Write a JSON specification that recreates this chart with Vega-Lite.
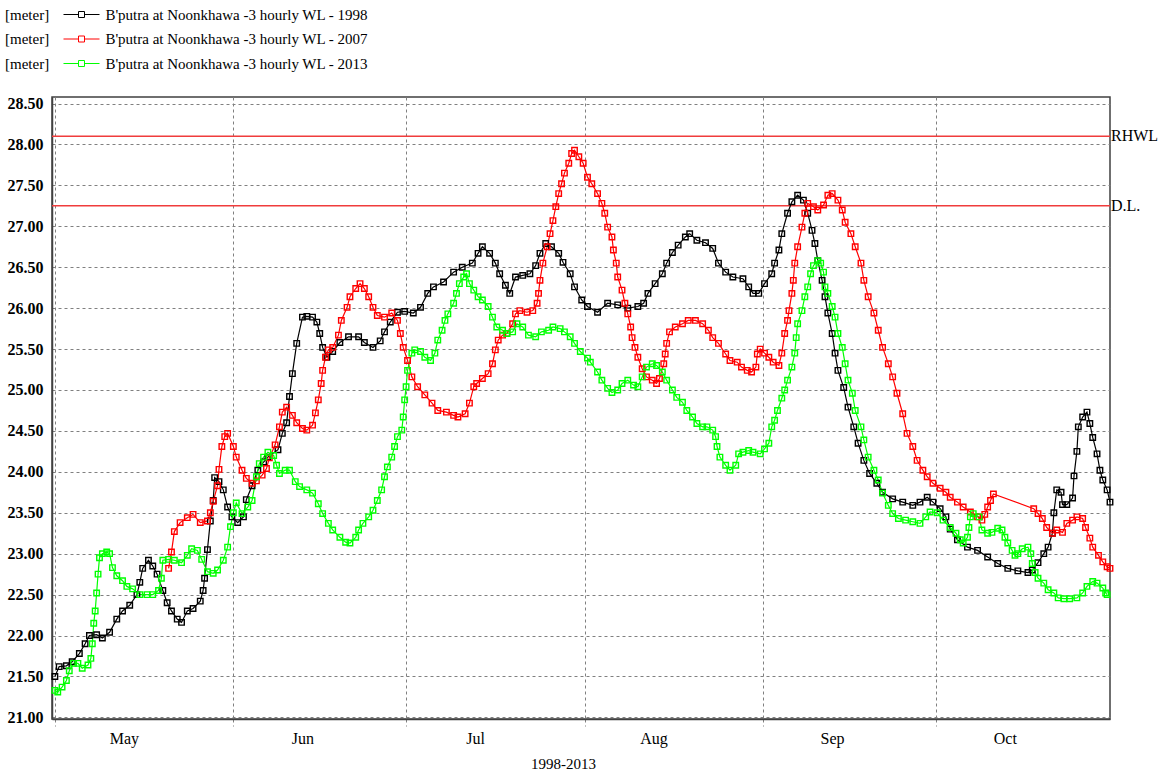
{
"$schema":"https://vega.github.io/schema/vega-lite/v6.json",
"width":1058,"height":622,
"autosize":{"type":"none"},
"padding":{"left":52,"top":97,"right":56,"bottom":59},
"background":"white",
"config":{"view":{"stroke":"#404040","strokeWidth":1.5},"font":"Liberation Serif"},
"datasets":{
"levels":[{"level":28.1,"label":"RHWL"},{"level":27.25,"label":"D.L."}],
"wl":[
{"year":"1998","time":"2013-05-01T00:00","wl":21.50},{"year":"1998","time":"2013-05-01T18:00","wl":21.62},{"year":"1998","time":"2013-05-03T00:00","wl":21.63},{"year":"1998","time":"2013-05-04T00:00","wl":21.68},{"year":"1998","time":"2013-05-05T06:00","wl":21.78},{"year":"1998","time":"2013-05-06T06:00","wl":21.90},{"year":"1998","time":"2013-05-07T00:00","wl":22.00},{"year":"1998","time":"2013-05-08T06:00","wl":22.01},{"year":"1998","time":"2013-05-09T06:00","wl":21.97},{"year":"1998","time":"2013-05-10T12:00","wl":22.04},{"year":"1998","time":"2013-05-11T18:00","wl":22.20},{"year":"1998","time":"2013-05-12T18:00","wl":22.30},{"year":"1998","time":"2013-05-14T00:00","wl":22.37},{"year":"1998","time":"2013-05-15T06:00","wl":22.50},{"year":"1998","time":"2013-05-15T18:00","wl":22.65},{"year":"1998","time":"2013-05-16T06:00","wl":22.82},{"year":"1998","time":"2013-05-17T06:00","wl":22.92},{"year":"1998","time":"2013-05-18T00:00","wl":22.85},{"year":"1998","time":"2013-05-18T18:00","wl":22.75},{"year":"1998","time":"2013-05-19T18:00","wl":22.55},{"year":"1998","time":"2013-05-20T12:00","wl":22.40},{"year":"1998","time":"2013-05-21T06:00","wl":22.30},{"year":"1998","time":"2013-05-22T06:00","wl":22.20},{"year":"1998","time":"2013-05-23T00:00","wl":22.16},{"year":"1998","time":"2013-05-24T00:00","wl":22.30},{"year":"1998","time":"2013-05-25T00:00","wl":22.33},{"year":"1998","time":"2013-05-26T06:00","wl":22.42},{"year":"1998","time":"2013-05-26T18:00","wl":22.55},{"year":"1998","time":"2013-05-27T00:00","wl":22.70},{"year":"1998","time":"2013-05-27T12:00","wl":23.05},{"year":"1998","time":"2013-05-28T00:00","wl":23.40},{"year":"1998","time":"2013-05-28T12:00","wl":23.65},{"year":"1998","time":"2013-05-28T18:00","wl":23.93},{"year":"1998","time":"2013-05-29T12:00","wl":23.88},{"year":"1998","time":"2013-05-30T06:00","wl":23.78},{"year":"1998","time":"2013-05-31T00:00","wl":23.57},{"year":"1998","time":"2013-05-31T18:00","wl":23.45},{"year":"1998","time":"2013-06-01T18:00","wl":23.38},{"year":"1998","time":"2013-06-02T18:00","wl":23.45},{"year":"1998","time":"2013-06-03T06:00","wl":23.66},{"year":"1998","time":"2013-06-04T06:00","wl":23.83},{"year":"1998","time":"2013-06-05T06:00","wl":24.02},{"year":"1998","time":"2013-06-06T06:00","wl":24.12},{"year":"1998","time":"2013-06-07T00:00","wl":24.18},{"year":"1998","time":"2013-06-08T18:00","wl":24.27},{"year":"1998","time":"2013-06-09T12:00","wl":24.47},{"year":"1998","time":"2013-06-10T06:00","wl":24.60},{"year":"1998","time":"2013-06-10T18:00","wl":24.92},{"year":"1998","time":"2013-06-11T06:00","wl":25.20},{"year":"1998","time":"2013-06-12T00:00","wl":25.57},{"year":"1998","time":"2013-06-13T00:00","wl":25.89},{"year":"1998","time":"2013-06-13T18:00","wl":25.90},{"year":"1998","time":"2013-06-14T18:00","wl":25.89},{"year":"1998","time":"2013-06-15T12:00","wl":25.83},{"year":"1998","time":"2013-06-16T00:00","wl":25.69},{"year":"1998","time":"2013-06-16T12:00","wl":25.52},{"year":"1998","time":"2013-06-17T06:00","wl":25.40},{"year":"1998","time":"2013-06-18T06:00","wl":25.47},{"year":"1998","time":"2013-06-19T12:00","wl":25.58},{"year":"1998","time":"2013-06-21T00:00","wl":25.65},{"year":"1998","time":"2013-06-22T18:00","wl":25.65},{"year":"1998","time":"2013-06-23T18:00","wl":25.58},{"year":"1998","time":"2013-06-25T06:00","wl":25.52},{"year":"1998","time":"2013-06-26T12:00","wl":25.60},{"year":"1998","time":"2013-06-27T06:00","wl":25.71},{"year":"1998","time":"2013-06-28T06:00","wl":25.83},{"year":"1998","time":"2013-06-29T12:00","wl":25.95},{"year":"1998","time":"2013-06-30T18:00","wl":25.96},{"year":"1998","time":"2013-07-02T06:00","wl":25.94},{"year":"1998","time":"2013-07-03T12:00","wl":26.01},{"year":"1998","time":"2013-07-04T18:00","wl":26.18},{"year":"1998","time":"2013-07-05T18:00","wl":26.26},{"year":"1998","time":"2013-07-07T12:00","wl":26.32},{"year":"1998","time":"2013-07-09T06:00","wl":26.44},{"year":"1998","time":"2013-07-10T18:00","wl":26.50},{"year":"1998","time":"2013-07-12T12:00","wl":26.55},{"year":"1998","time":"2013-07-13T12:00","wl":26.67},{"year":"1998","time":"2013-07-14T06:00","wl":26.75},{"year":"1998","time":"2013-07-15T12:00","wl":26.67},{"year":"1998","time":"2013-07-16T12:00","wl":26.55},{"year":"1998","time":"2013-07-17T06:00","wl":26.42},{"year":"1998","time":"2013-07-18T06:00","wl":26.28},{"year":"1998","time":"2013-07-19T00:00","wl":26.18},{"year":"1998","time":"2013-07-20T00:00","wl":26.38},{"year":"1998","time":"2013-07-21T06:00","wl":26.40},{"year":"1998","time":"2013-07-22T12:00","wl":26.42},{"year":"1998","time":"2013-07-23T12:00","wl":26.52},{"year":"1998","time":"2013-07-24T06:00","wl":26.67},{"year":"1998","time":"2013-07-25T06:00","wl":26.79},{"year":"1998","time":"2013-07-26T06:00","wl":26.75},{"year":"1998","time":"2013-07-27T12:00","wl":26.67},{"year":"1998","time":"2013-07-28T06:00","wl":26.56},{"year":"1998","time":"2013-07-29T12:00","wl":26.42},{"year":"1998","time":"2013-07-30T06:00","wl":26.26},{"year":"1998","time":"2013-07-31T12:00","wl":26.10},{"year":"1998","time":"2013-08-01T12:00","wl":26.02},{"year":"1998","time":"2013-08-03T06:00","wl":25.95},{"year":"1998","time":"2013-08-05T00:00","wl":26.06},{"year":"1998","time":"2013-08-06T18:00","wl":26.04},{"year":"1998","time":"2013-08-08T12:00","wl":26.00},{"year":"1998","time":"2013-08-10T06:00","wl":26.02},{"year":"1998","time":"2013-08-11T06:00","wl":26.06},{"year":"1998","time":"2013-08-12T00:00","wl":26.18},{"year":"1998","time":"2013-08-13T06:00","wl":26.30},{"year":"1998","time":"2013-08-14T12:00","wl":26.42},{"year":"1998","time":"2013-08-15T06:00","wl":26.55},{"year":"1998","time":"2013-08-16T06:00","wl":26.68},{"year":"1998","time":"2013-08-17T06:00","wl":26.77},{"year":"1998","time":"2013-08-18T12:00","wl":26.87},{"year":"1998","time":"2013-08-19T06:00","wl":26.91},{"year":"1998","time":"2013-08-20T12:00","wl":26.83},{"year":"1998","time":"2013-08-22T00:00","wl":26.80},{"year":"1998","time":"2013-08-23T06:00","wl":26.73},{"year":"1998","time":"2013-08-24T06:00","wl":26.55},{"year":"1998","time":"2013-08-25T12:00","wl":26.44},{"year":"1998","time":"2013-08-26T18:00","wl":26.38},{"year":"1998","time":"2013-08-28T12:00","wl":26.36},{"year":"1998","time":"2013-08-29T12:00","wl":26.26},{"year":"1998","time":"2013-08-30T06:00","wl":26.18},{"year":"1998","time":"2013-08-31T06:00","wl":26.18},{"year":"1998","time":"2013-09-01T06:00","wl":26.30},{"year":"1998","time":"2013-09-02T12:00","wl":26.42},{"year":"1998","time":"2013-09-03T00:00","wl":26.55},{"year":"1998","time":"2013-09-03T18:00","wl":26.71},{"year":"1998","time":"2013-09-04T06:00","wl":26.91},{"year":"1998","time":"2013-09-05T06:00","wl":27.16},{"year":"1998","time":"2013-09-06T00:00","wl":27.30},{"year":"1998","time":"2013-09-07T00:00","wl":27.38},{"year":"1998","time":"2013-09-08T00:00","wl":27.32},{"year":"1998","time":"2013-09-08T18:00","wl":27.16},{"year":"1998","time":"2013-09-09T12:00","wl":26.95},{"year":"1998","time":"2013-09-10T00:00","wl":26.79},{"year":"1998","time":"2013-09-10T12:00","wl":26.58},{"year":"1998","time":"2013-09-11T06:00","wl":26.34},{"year":"1998","time":"2013-09-11T18:00","wl":26.14},{"year":"1998","time":"2013-09-12T06:00","wl":25.94},{"year":"1998","time":"2013-09-13T00:00","wl":25.69},{"year":"1998","time":"2013-09-13T12:00","wl":25.45},{"year":"1998","time":"2013-09-14T00:00","wl":25.24},{"year":"1998","time":"2013-09-15T00:00","wl":25.03},{"year":"1998","time":"2013-09-15T18:00","wl":24.79},{"year":"1998","time":"2013-09-16T18:00","wl":24.55},{"year":"1998","time":"2013-09-17T12:00","wl":24.35},{"year":"1998","time":"2013-09-18T12:00","wl":24.14},{"year":"1998","time":"2013-09-19T12:00","wl":23.98},{"year":"1998","time":"2013-09-20T18:00","wl":23.86},{"year":"1998","time":"2013-09-21T18:00","wl":23.75},{"year":"1998","time":"2013-09-23T12:00","wl":23.67},{"year":"1998","time":"2013-09-25T06:00","wl":23.63},{"year":"1998","time":"2013-09-27T00:00","wl":23.59},{"year":"1998","time":"2013-09-28T06:00","wl":23.63},{"year":"1998","time":"2013-09-29T12:00","wl":23.69},{"year":"1998","time":"2013-09-30T12:00","wl":23.63},{"year":"1998","time":"2013-10-01T18:00","wl":23.55},{"year":"1998","time":"2013-10-02T18:00","wl":23.45},{"year":"1998","time":"2013-10-03T12:00","wl":23.30},{"year":"1998","time":"2013-10-04T18:00","wl":23.17},{"year":"1998","time":"2013-10-06T12:00","wl":23.08},{"year":"1998","time":"2013-10-08T06:00","wl":23.04},{"year":"1998","time":"2013-10-10T00:00","wl":22.96},{"year":"1998","time":"2013-10-11T18:00","wl":22.88},{"year":"1998","time":"2013-10-13T12:00","wl":22.82},{"year":"1998","time":"2013-10-15T06:00","wl":22.79},{"year":"1998","time":"2013-10-17T00:00","wl":22.77},{"year":"1998","time":"2013-10-17T18:00","wl":22.80},{"year":"1998","time":"2013-10-18T18:00","wl":22.89},{"year":"1998","time":"2013-10-19T18:00","wl":23.00},{"year":"1998","time":"2013-10-20T12:00","wl":23.08},{"year":"1998","time":"2013-10-21T06:00","wl":23.25},{"year":"1998","time":"2013-10-21T12:00","wl":23.50},{"year":"1998","time":"2013-10-22T00:00","wl":23.78},{"year":"1998","time":"2013-10-22T18:00","wl":23.75},{"year":"1998","time":"2013-10-23T00:00","wl":23.60},{"year":"1998","time":"2013-10-23T18:00","wl":23.60},{"year":"1998","time":"2013-10-24T18:00","wl":23.68},{"year":"1998","time":"2013-10-25T00:00","wl":23.95},{"year":"1998","time":"2013-10-25T12:00","wl":24.25},{"year":"1998","time":"2013-10-25T18:00","wl":24.55},{"year":"1998","time":"2013-10-26T12:00","wl":24.67},{"year":"1998","time":"2013-10-27T06:00","wl":24.73},{"year":"1998","time":"2013-10-27T18:00","wl":24.59},{"year":"1998","time":"2013-10-28T06:00","wl":24.42},{"year":"1998","time":"2013-10-29T00:00","wl":24.22},{"year":"1998","time":"2013-10-29T12:00","wl":24.02},{"year":"1998","time":"2013-10-30T00:00","wl":23.90},{"year":"1998","time":"2013-10-30T18:00","wl":23.78},{"year":"1998","time":"2013-10-31T06:00","wl":23.63},
{"year":"2007","time":"2013-05-20T18:00","wl":22.82},{"year":"2007","time":"2013-05-21T06:00","wl":23.02},{"year":"2007","time":"2013-05-21T18:00","wl":23.27},{"year":"2007","time":"2013-05-22T18:00","wl":23.38},{"year":"2007","time":"2013-05-24T00:00","wl":23.44},{"year":"2007","time":"2013-05-25T00:00","wl":23.48},{"year":"2007","time":"2013-05-26T06:00","wl":23.38},{"year":"2007","time":"2013-05-27T12:00","wl":23.40},{"year":"2007","time":"2013-05-28T00:00","wl":23.50},{"year":"2007","time":"2013-05-28T12:00","wl":23.64},{"year":"2007","time":"2013-05-29T06:00","wl":23.83},{"year":"2007","time":"2013-05-29T12:00","wl":24.03},{"year":"2007","time":"2013-05-30T00:00","wl":24.31},{"year":"2007","time":"2013-05-30T12:00","wl":24.43},{"year":"2007","time":"2013-05-31T00:00","wl":24.47},{"year":"2007","time":"2013-06-01T00:00","wl":24.31},{"year":"2007","time":"2013-06-01T12:00","wl":24.18},{"year":"2007","time":"2013-06-02T12:00","wl":24.02},{"year":"2007","time":"2013-06-03T06:00","wl":23.92},{"year":"2007","time":"2013-06-04T06:00","wl":23.86},{"year":"2007","time":"2013-06-05T00:00","wl":23.89},{"year":"2007","time":"2013-06-06T00:00","wl":23.96},{"year":"2007","time":"2013-06-06T18:00","wl":24.04},{"year":"2007","time":"2013-06-07T06:00","wl":24.17},{"year":"2007","time":"2013-06-08T06:00","wl":24.33},{"year":"2007","time":"2013-06-09T00:00","wl":24.55},{"year":"2007","time":"2013-06-09T12:00","wl":24.73},{"year":"2007","time":"2013-06-10T06:00","wl":24.79},{"year":"2007","time":"2013-06-11T06:00","wl":24.69},{"year":"2007","time":"2013-06-12T00:00","wl":24.60},{"year":"2007","time":"2013-06-13T00:00","wl":24.53},{"year":"2007","time":"2013-06-13T18:00","wl":24.51},{"year":"2007","time":"2013-06-14T18:00","wl":24.57},{"year":"2007","time":"2013-06-15T06:00","wl":24.72},{"year":"2007","time":"2013-06-15T18:00","wl":24.88},{"year":"2007","time":"2013-06-16T06:00","wl":25.08},{"year":"2007","time":"2013-06-16T12:00","wl":25.24},{"year":"2007","time":"2013-06-17T00:00","wl":25.40},{"year":"2007","time":"2013-06-17T12:00","wl":25.49},{"year":"2007","time":"2013-06-18T06:00","wl":25.52},{"year":"2007","time":"2013-06-19T06:00","wl":25.67},{"year":"2007","time":"2013-06-19T18:00","wl":25.85},{"year":"2007","time":"2013-06-20T18:00","wl":26.01},{"year":"2007","time":"2013-06-21T06:00","wl":26.14},{"year":"2007","time":"2013-06-22T06:00","wl":26.24},{"year":"2007","time":"2013-06-23T00:00","wl":26.30},{"year":"2007","time":"2013-06-23T18:00","wl":26.24},{"year":"2007","time":"2013-06-24T12:00","wl":26.14},{"year":"2007","time":"2013-06-25T06:00","wl":26.01},{"year":"2007","time":"2013-06-26T00:00","wl":25.91},{"year":"2007","time":"2013-06-27T06:00","wl":25.89},{"year":"2007","time":"2013-06-28T12:00","wl":25.94},{"year":"2007","time":"2013-06-29T12:00","wl":25.85},{"year":"2007","time":"2013-06-30T00:00","wl":25.69},{"year":"2007","time":"2013-06-30T12:00","wl":25.52},{"year":"2007","time":"2013-07-01T06:00","wl":25.36},{"year":"2007","time":"2013-07-02T00:00","wl":25.16},{"year":"2007","time":"2013-07-03T00:00","wl":25.04},{"year":"2007","time":"2013-07-04T06:00","wl":24.94},{"year":"2007","time":"2013-07-05T12:00","wl":24.84},{"year":"2007","time":"2013-07-06T12:00","wl":24.75},{"year":"2007","time":"2013-07-08T00:00","wl":24.73},{"year":"2007","time":"2013-07-09T06:00","wl":24.69},{"year":"2007","time":"2013-07-10T00:00","wl":24.67},{"year":"2007","time":"2013-07-11T06:00","wl":24.71},{"year":"2007","time":"2013-07-12T00:00","wl":24.84},{"year":"2007","time":"2013-07-12T18:00","wl":25.04},{"year":"2007","time":"2013-07-13T06:00","wl":25.08},{"year":"2007","time":"2013-07-14T06:00","wl":25.14},{"year":"2007","time":"2013-07-15T06:00","wl":25.20},{"year":"2007","time":"2013-07-16T00:00","wl":25.32},{"year":"2007","time":"2013-07-16T12:00","wl":25.49},{"year":"2007","time":"2013-07-17T00:00","wl":25.61},{"year":"2007","time":"2013-07-17T18:00","wl":25.67},{"year":"2007","time":"2013-07-18T12:00","wl":25.69},{"year":"2007","time":"2013-07-19T12:00","wl":25.81},{"year":"2007","time":"2013-07-20T00:00","wl":25.93},{"year":"2007","time":"2013-07-20T18:00","wl":25.97},{"year":"2007","time":"2013-07-22T00:00","wl":25.95},{"year":"2007","time":"2013-07-23T00:00","wl":25.97},{"year":"2007","time":"2013-07-23T18:00","wl":26.06},{"year":"2007","time":"2013-07-24T00:00","wl":26.18},{"year":"2007","time":"2013-07-24T06:00","wl":26.34},{"year":"2007","time":"2013-07-24T18:00","wl":26.55},{"year":"2007","time":"2013-07-25T12:00","wl":26.75},{"year":"2007","time":"2013-07-26T00:00","wl":26.91},{"year":"2007","time":"2013-07-26T12:00","wl":27.07},{"year":"2007","time":"2013-07-27T00:00","wl":27.24},{"year":"2007","time":"2013-07-27T12:00","wl":27.40},{"year":"2007","time":"2013-07-28T00:00","wl":27.52},{"year":"2007","time":"2013-07-28T12:00","wl":27.65},{"year":"2007","time":"2013-07-29T06:00","wl":27.77},{"year":"2007","time":"2013-07-29T18:00","wl":27.89},{"year":"2007","time":"2013-07-30T06:00","wl":27.93},{"year":"2007","time":"2013-07-31T00:00","wl":27.85},{"year":"2007","time":"2013-07-31T18:00","wl":27.77},{"year":"2007","time":"2013-08-01T12:00","wl":27.60},{"year":"2007","time":"2013-08-02T06:00","wl":27.52},{"year":"2007","time":"2013-08-03T06:00","wl":27.40},{"year":"2007","time":"2013-08-04T00:00","wl":27.28},{"year":"2007","time":"2013-08-04T12:00","wl":27.16},{"year":"2007","time":"2013-08-05T00:00","wl":26.99},{"year":"2007","time":"2013-08-05T18:00","wl":26.87},{"year":"2007","time":"2013-08-06T00:00","wl":26.71},{"year":"2007","time":"2013-08-06T12:00","wl":26.55},{"year":"2007","time":"2013-08-06T18:00","wl":26.38},{"year":"2007","time":"2013-08-07T12:00","wl":26.22},{"year":"2007","time":"2013-08-08T00:00","wl":26.06},{"year":"2007","time":"2013-08-08T12:00","wl":25.93},{"year":"2007","time":"2013-08-09T00:00","wl":25.77},{"year":"2007","time":"2013-08-09T06:00","wl":25.64},{"year":"2007","time":"2013-08-09T18:00","wl":25.52},{"year":"2007","time":"2013-08-10T06:00","wl":25.40},{"year":"2007","time":"2013-08-11T00:00","wl":25.26},{"year":"2007","time":"2013-08-11T18:00","wl":25.16},{"year":"2007","time":"2013-08-12T18:00","wl":25.12},{"year":"2007","time":"2013-08-13T12:00","wl":25.08},{"year":"2007","time":"2013-08-14T00:00","wl":25.14},{"year":"2007","time":"2013-08-14T18:00","wl":25.32},{"year":"2007","time":"2013-08-15T00:00","wl":25.44},{"year":"2007","time":"2013-08-15T06:00","wl":25.57},{"year":"2007","time":"2013-08-15T18:00","wl":25.71},{"year":"2007","time":"2013-08-16T18:00","wl":25.77},{"year":"2007","time":"2013-08-18T00:00","wl":25.81},{"year":"2007","time":"2013-08-19T00:00","wl":25.85},{"year":"2007","time":"2013-08-20T06:00","wl":25.85},{"year":"2007","time":"2013-08-21T12:00","wl":25.81},{"year":"2007","time":"2013-08-22T12:00","wl":25.73},{"year":"2007","time":"2013-08-23T06:00","wl":25.64},{"year":"2007","time":"2013-08-24T06:00","wl":25.57},{"year":"2007","time":"2013-08-25T12:00","wl":25.44},{"year":"2007","time":"2013-08-26T06:00","wl":25.36},{"year":"2007","time":"2013-08-27T12:00","wl":25.34},{"year":"2007","time":"2013-08-28T06:00","wl":25.28},{"year":"2007","time":"2013-08-29T06:00","wl":25.24},{"year":"2007","time":"2013-08-30T00:00","wl":25.22},{"year":"2007","time":"2013-08-30T18:00","wl":25.28},{"year":"2007","time":"2013-08-31T00:00","wl":25.44},{"year":"2007","time":"2013-08-31T12:00","wl":25.50},{"year":"2007","time":"2013-09-01T06:00","wl":25.45},{"year":"2007","time":"2013-09-02T00:00","wl":25.40},{"year":"2007","time":"2013-09-02T18:00","wl":25.34},{"year":"2007","time":"2013-09-03T18:00","wl":25.30},{"year":"2007","time":"2013-09-04T06:00","wl":25.45},{"year":"2007","time":"2013-09-04T18:00","wl":25.69},{"year":"2007","time":"2013-09-05T06:00","wl":25.85},{"year":"2007","time":"2013-09-05T12:00","wl":25.97},{"year":"2007","time":"2013-09-06T00:00","wl":26.18},{"year":"2007","time":"2013-09-06T06:00","wl":26.34},{"year":"2007","time":"2013-09-06T12:00","wl":26.55},{"year":"2007","time":"2013-09-07T00:00","wl":26.75},{"year":"2007","time":"2013-09-07T18:00","wl":26.99},{"year":"2007","time":"2013-09-08T06:00","wl":27.16},{"year":"2007","time":"2013-09-08T18:00","wl":27.28},{"year":"2007","time":"2013-09-09T18:00","wl":27.24},{"year":"2007","time":"2013-09-10T12:00","wl":27.20},{"year":"2007","time":"2013-09-11T12:00","wl":27.26},{"year":"2007","time":"2013-09-12T06:00","wl":27.38},{"year":"2007","time":"2013-09-13T00:00","wl":27.40},{"year":"2007","time":"2013-09-14T00:00","wl":27.32},{"year":"2007","time":"2013-09-14T18:00","wl":27.20},{"year":"2007","time":"2013-09-15T06:00","wl":27.05},{"year":"2007","time":"2013-09-16T06:00","wl":26.91},{"year":"2007","time":"2013-09-17T00:00","wl":26.75},{"year":"2007","time":"2013-09-18T00:00","wl":26.55},{"year":"2007","time":"2013-09-18T12:00","wl":26.34},{"year":"2007","time":"2013-09-19T06:00","wl":26.14},{"year":"2007","time":"2013-09-20T06:00","wl":25.94},{"year":"2007","time":"2013-09-21T00:00","wl":25.73},{"year":"2007","time":"2013-09-21T18:00","wl":25.52},{"year":"2007","time":"2013-09-22T18:00","wl":25.32},{"year":"2007","time":"2013-09-23T12:00","wl":25.16},{"year":"2007","time":"2013-09-24T06:00","wl":24.96},{"year":"2007","time":"2013-09-25T06:00","wl":24.71},{"year":"2007","time":"2013-09-26T00:00","wl":24.47},{"year":"2007","time":"2013-09-27T00:00","wl":24.31},{"year":"2007","time":"2013-09-27T18:00","wl":24.14},{"year":"2007","time":"2013-09-28T18:00","wl":24.02},{"year":"2007","time":"2013-09-29T12:00","wl":23.94},{"year":"2007","time":"2013-09-30T12:00","wl":23.86},{"year":"2007","time":"2013-10-01T18:00","wl":23.80},{"year":"2007","time":"2013-10-02T18:00","wl":23.75},{"year":"2007","time":"2013-10-03T12:00","wl":23.69},{"year":"2007","time":"2013-10-04T18:00","wl":23.63},{"year":"2007","time":"2013-10-05T18:00","wl":23.57},{"year":"2007","time":"2013-10-07T00:00","wl":23.51},{"year":"2007","time":"2013-10-08T06:00","wl":23.45},{"year":"2007","time":"2013-10-09T00:00","wl":23.41},{"year":"2007","time":"2013-10-09T12:00","wl":23.48},{"year":"2007","time":"2013-10-10T00:00","wl":23.57},{"year":"2007","time":"2013-10-10T12:00","wl":23.65},{"year":"2007","time":"2013-10-11T00:00","wl":23.73},{"year":"2007","time":"2013-10-18T00:00","wl":23.55},{"year":"2007","time":"2013-10-18T18:00","wl":23.49},{"year":"2007","time":"2013-10-19T12:00","wl":23.43},{"year":"2007","time":"2013-10-20T06:00","wl":23.32},{"year":"2007","time":"2013-10-21T06:00","wl":23.25},{"year":"2007","time":"2013-10-22T00:00","wl":23.29},{"year":"2007","time":"2013-10-23T00:00","wl":23.26},{"year":"2007","time":"2013-10-23T18:00","wl":23.37},{"year":"2007","time":"2013-10-24T18:00","wl":23.41},{"year":"2007","time":"2013-10-25T12:00","wl":23.45},{"year":"2007","time":"2013-10-26T12:00","wl":23.43},{"year":"2007","time":"2013-10-27T00:00","wl":23.32},{"year":"2007","time":"2013-10-27T18:00","wl":23.19},{"year":"2007","time":"2013-10-28T06:00","wl":23.08},{"year":"2007","time":"2013-10-29T06:00","wl":22.98},{"year":"2007","time":"2013-10-30T00:00","wl":22.90},{"year":"2007","time":"2013-10-30T18:00","wl":22.84},{"year":"2007","time":"2013-10-31T06:00","wl":22.82},
{"year":"2013","time":"2013-05-01T00:00","wl":21.33},{"year":"2013","time":"2013-05-01T12:00","wl":21.31},{"year":"2013","time":"2013-05-02T06:00","wl":21.37},{"year":"2013","time":"2013-05-03T00:00","wl":21.45},{"year":"2013","time":"2013-05-03T12:00","wl":21.57},{"year":"2013","time":"2013-05-04T06:00","wl":21.66},{"year":"2013","time":"2013-05-05T00:00","wl":21.66},{"year":"2013","time":"2013-05-05T18:00","wl":21.60},{"year":"2013","time":"2013-05-06T18:00","wl":21.64},{"year":"2013","time":"2013-05-07T06:00","wl":21.72},{"year":"2013","time":"2013-05-07T12:00","wl":21.90},{"year":"2013","time":"2013-05-07T18:00","wl":22.15},{"year":"2013","time":"2013-05-08T00:00","wl":22.30},{"year":"2013","time":"2013-05-08T06:00","wl":22.52},{"year":"2013","time":"2013-05-08T12:00","wl":22.75},{"year":"2013","time":"2013-05-08T18:00","wl":22.95},{"year":"2013","time":"2013-05-09T06:00","wl":23.00},{"year":"2013","time":"2013-05-10T00:00","wl":23.02},{"year":"2013","time":"2013-05-10T12:00","wl":23.00},{"year":"2013","time":"2013-05-11T00:00","wl":22.83},{"year":"2013","time":"2013-05-11T18:00","wl":22.73},{"year":"2013","time":"2013-05-12T18:00","wl":22.67},{"year":"2013","time":"2013-05-13T12:00","wl":22.60},{"year":"2013","time":"2013-05-14T12:00","wl":22.57},{"year":"2013","time":"2013-05-15T18:00","wl":22.50},{"year":"2013","time":"2013-05-17T00:00","wl":22.50},{"year":"2013","time":"2013-05-18T00:00","wl":22.50},{"year":"2013","time":"2013-05-19T00:00","wl":22.55},{"year":"2013","time":"2013-05-19T12:00","wl":22.70},{"year":"2013","time":"2013-05-19T18:00","wl":22.92},{"year":"2013","time":"2013-05-20T18:00","wl":22.93},{"year":"2013","time":"2013-05-21T18:00","wl":22.92},{"year":"2013","time":"2013-05-23T00:00","wl":22.89},{"year":"2013","time":"2013-05-24T00:00","wl":22.98},{"year":"2013","time":"2013-05-24T18:00","wl":23.06},{"year":"2013","time":"2013-05-25T18:00","wl":23.04},{"year":"2013","time":"2013-05-26T12:00","wl":22.93},{"year":"2013","time":"2013-05-27T12:00","wl":22.78},{"year":"2013","time":"2013-05-28T12:00","wl":22.76},{"year":"2013","time":"2013-05-29T06:00","wl":22.80},{"year":"2013","time":"2013-05-30T06:00","wl":22.92},{"year":"2013","time":"2013-05-31T00:00","wl":23.08},{"year":"2013","time":"2013-05-31T12:00","wl":23.33},{"year":"2013","time":"2013-06-01T00:00","wl":23.50},{"year":"2013","time":"2013-06-01T12:00","wl":23.62},{"year":"2013","time":"2013-06-02T12:00","wl":23.49},{"year":"2013","time":"2013-06-03T12:00","wl":23.57},{"year":"2013","time":"2013-06-04T06:00","wl":23.65},{"year":"2013","time":"2013-06-05T00:00","wl":23.94},{"year":"2013","time":"2013-06-05T12:00","wl":24.10},{"year":"2013","time":"2013-06-06T06:00","wl":24.18},{"year":"2013","time":"2013-06-07T00:00","wl":24.24},{"year":"2013","time":"2013-06-08T00:00","wl":24.20},{"year":"2013","time":"2013-06-08T12:00","wl":24.08},{"year":"2013","time":"2013-06-09T00:00","wl":23.98},{"year":"2013","time":"2013-06-10T00:00","wl":24.02},{"year":"2013","time":"2013-06-10T18:00","wl":24.02},{"year":"2013","time":"2013-06-11T18:00","wl":23.88},{"year":"2013","time":"2013-06-12T12:00","wl":23.82},{"year":"2013","time":"2013-06-13T18:00","wl":23.78},{"year":"2013","time":"2013-06-14T18:00","wl":23.74},{"year":"2013","time":"2013-06-15T18:00","wl":23.61},{"year":"2013","time":"2013-06-16T12:00","wl":23.49},{"year":"2013","time":"2013-06-17T12:00","wl":23.37},{"year":"2013","time":"2013-06-18T06:00","wl":23.29},{"year":"2013","time":"2013-06-19T12:00","wl":23.20},{"year":"2013","time":"2013-06-20T12:00","wl":23.14},{"year":"2013","time":"2013-06-21T06:00","wl":23.13},{"year":"2013","time":"2013-06-22T06:00","wl":23.20},{"year":"2013","time":"2013-06-22T18:00","wl":23.29},{"year":"2013","time":"2013-06-23T12:00","wl":23.37},{"year":"2013","time":"2013-06-24T12:00","wl":23.45},{"year":"2013","time":"2013-06-25T06:00","wl":23.53},{"year":"2013","time":"2013-06-26T00:00","wl":23.65},{"year":"2013","time":"2013-06-26T18:00","wl":23.78},{"year":"2013","time":"2013-06-27T06:00","wl":23.94},{"year":"2013","time":"2013-06-27T18:00","wl":24.06},{"year":"2013","time":"2013-06-28T12:00","wl":24.18},{"year":"2013","time":"2013-06-29T00:00","wl":24.31},{"year":"2013","time":"2013-06-29T12:00","wl":24.43},{"year":"2013","time":"2013-06-30T06:00","wl":24.51},{"year":"2013","time":"2013-06-30T12:00","wl":24.67},{"year":"2013","time":"2013-06-30T18:00","wl":24.88},{"year":"2013","time":"2013-07-01T00:00","wl":25.04},{"year":"2013","time":"2013-07-01T06:00","wl":25.24},{"year":"2013","time":"2013-07-02T00:00","wl":25.45},{"year":"2013","time":"2013-07-02T12:00","wl":25.49},{"year":"2013","time":"2013-07-03T12:00","wl":25.47},{"year":"2013","time":"2013-07-04T06:00","wl":25.40},{"year":"2013","time":"2013-07-05T06:00","wl":25.36},{"year":"2013","time":"2013-07-06T00:00","wl":25.45},{"year":"2013","time":"2013-07-06T12:00","wl":25.61},{"year":"2013","time":"2013-07-07T06:00","wl":25.73},{"year":"2013","time":"2013-07-07T18:00","wl":25.85},{"year":"2013","time":"2013-07-08T06:00","wl":25.93},{"year":"2013","time":"2013-07-09T06:00","wl":26.06},{"year":"2013","time":"2013-07-09T18:00","wl":26.18},{"year":"2013","time":"2013-07-10T06:00","wl":26.30},{"year":"2013","time":"2013-07-11T00:00","wl":26.38},{"year":"2013","time":"2013-07-11T12:00","wl":26.42},{"year":"2013","time":"2013-07-12T00:00","wl":26.30},{"year":"2013","time":"2013-07-12T18:00","wl":26.22},{"year":"2013","time":"2013-07-13T12:00","wl":26.14},{"year":"2013","time":"2013-07-14T06:00","wl":26.10},{"year":"2013","time":"2013-07-15T06:00","wl":26.02},{"year":"2013","time":"2013-07-16T00:00","wl":25.89},{"year":"2013","time":"2013-07-16T18:00","wl":25.77},{"year":"2013","time":"2013-07-17T18:00","wl":25.73},{"year":"2013","time":"2013-07-18T12:00","wl":25.69},{"year":"2013","time":"2013-07-19T12:00","wl":25.71},{"year":"2013","time":"2013-07-20T06:00","wl":25.81},{"year":"2013","time":"2013-07-21T06:00","wl":25.77},{"year":"2013","time":"2013-07-22T06:00","wl":25.67},{"year":"2013","time":"2013-07-23T12:00","wl":25.65},{"year":"2013","time":"2013-07-24T12:00","wl":25.71},{"year":"2013","time":"2013-07-25T18:00","wl":25.73},{"year":"2013","time":"2013-07-26T12:00","wl":25.77},{"year":"2013","time":"2013-07-27T18:00","wl":25.75},{"year":"2013","time":"2013-07-28T12:00","wl":25.71},{"year":"2013","time":"2013-07-29T12:00","wl":25.65},{"year":"2013","time":"2013-07-30T06:00","wl":25.57},{"year":"2013","time":"2013-07-31T06:00","wl":25.47},{"year":"2013","time":"2013-08-01T12:00","wl":25.39},{"year":"2013","time":"2013-08-02T00:00","wl":25.34},{"year":"2013","time":"2013-08-03T06:00","wl":25.22},{"year":"2013","time":"2013-08-04T00:00","wl":25.12},{"year":"2013","time":"2013-08-05T00:00","wl":25.02},{"year":"2013","time":"2013-08-05T18:00","wl":24.97},{"year":"2013","time":"2013-08-06T18:00","wl":25.00},{"year":"2013","time":"2013-08-07T12:00","wl":25.08},{"year":"2013","time":"2013-08-08T12:00","wl":25.12},{"year":"2013","time":"2013-08-09T12:00","wl":25.06},{"year":"2013","time":"2013-08-10T06:00","wl":25.04},{"year":"2013","time":"2013-08-11T00:00","wl":25.16},{"year":"2013","time":"2013-08-11T18:00","wl":25.28},{"year":"2013","time":"2013-08-12T18:00","wl":25.32},{"year":"2013","time":"2013-08-13T12:00","wl":25.30},{"year":"2013","time":"2013-08-14T12:00","wl":25.22},{"year":"2013","time":"2013-08-15T06:00","wl":25.12},{"year":"2013","time":"2013-08-16T06:00","wl":25.00},{"year":"2013","time":"2013-08-17T00:00","wl":24.91},{"year":"2013","time":"2013-08-18T00:00","wl":24.85},{"year":"2013","time":"2013-08-18T18:00","wl":24.75},{"year":"2013","time":"2013-08-19T18:00","wl":24.67},{"year":"2013","time":"2013-08-20T12:00","wl":24.59},{"year":"2013","time":"2013-08-21T12:00","wl":24.55},{"year":"2013","time":"2013-08-22T06:00","wl":24.55},{"year":"2013","time":"2013-08-23T06:00","wl":24.51},{"year":"2013","time":"2013-08-23T18:00","wl":24.43},{"year":"2013","time":"2013-08-24T00:00","wl":24.31},{"year":"2013","time":"2013-08-24T12:00","wl":24.18},{"year":"2013","time":"2013-08-25T12:00","wl":24.08},{"year":"2013","time":"2013-08-26T06:00","wl":24.02},{"year":"2013","time":"2013-08-27T06:00","wl":24.08},{"year":"2013","time":"2013-08-27T18:00","wl":24.22},{"year":"2013","time":"2013-08-28T12:00","wl":24.24},{"year":"2013","time":"2013-08-29T12:00","wl":24.26},{"year":"2013","time":"2013-08-30T06:00","wl":24.24},{"year":"2013","time":"2013-08-31T12:00","wl":24.22},{"year":"2013","time":"2013-09-01T06:00","wl":24.28},{"year":"2013","time":"2013-09-02T00:00","wl":24.35},{"year":"2013","time":"2013-09-02T12:00","wl":24.55},{"year":"2013","time":"2013-09-03T00:00","wl":24.63},{"year":"2013","time":"2013-09-03T12:00","wl":24.75},{"year":"2013","time":"2013-09-04T06:00","wl":24.90},{"year":"2013","time":"2013-09-04T18:00","wl":25.00},{"year":"2013","time":"2013-09-05T06:00","wl":25.12},{"year":"2013","time":"2013-09-06T00:00","wl":25.28},{"year":"2013","time":"2013-09-06T12:00","wl":25.45},{"year":"2013","time":"2013-09-06T18:00","wl":25.64},{"year":"2013","time":"2013-09-07T00:00","wl":25.81},{"year":"2013","time":"2013-09-07T18:00","wl":25.97},{"year":"2013","time":"2013-09-08T06:00","wl":26.14},{"year":"2013","time":"2013-09-08T18:00","wl":26.26},{"year":"2013","time":"2013-09-09T06:00","wl":26.42},{"year":"2013","time":"2013-09-09T18:00","wl":26.52},{"year":"2013","time":"2013-09-10T12:00","wl":26.58},{"year":"2013","time":"2013-09-11T00:00","wl":26.55},{"year":"2013","time":"2013-09-11T12:00","wl":26.44},{"year":"2013","time":"2013-09-11T18:00","wl":26.26},{"year":"2013","time":"2013-09-12T06:00","wl":26.18},{"year":"2013","time":"2013-09-13T00:00","wl":26.02},{"year":"2013","time":"2013-09-13T12:00","wl":25.89},{"year":"2013","time":"2013-09-14T00:00","wl":25.69},{"year":"2013","time":"2013-09-14T18:00","wl":25.52},{"year":"2013","time":"2013-09-15T06:00","wl":25.32},{"year":"2013","time":"2013-09-15T18:00","wl":25.12},{"year":"2013","time":"2013-09-16T12:00","wl":24.96},{"year":"2013","time":"2013-09-17T00:00","wl":24.75},{"year":"2013","time":"2013-09-18T00:00","wl":24.55},{"year":"2013","time":"2013-09-18T12:00","wl":24.39},{"year":"2013","time":"2013-09-19T06:00","wl":24.18},{"year":"2013","time":"2013-09-20T06:00","wl":24.02},{"year":"2013","time":"2013-09-21T00:00","wl":23.90},{"year":"2013","time":"2013-09-21T18:00","wl":23.74},{"year":"2013","time":"2013-09-22T18:00","wl":23.59},{"year":"2013","time":"2013-09-23T12:00","wl":23.49},{"year":"2013","time":"2013-09-24T12:00","wl":23.43},{"year":"2013","time":"2013-09-25T18:00","wl":23.41},{"year":"2013","time":"2013-09-27T00:00","wl":23.39},{"year":"2013","time":"2013-09-28T06:00","wl":23.37},{"year":"2013","time":"2013-09-29T06:00","wl":23.45},{"year":"2013","time":"2013-09-30T00:00","wl":23.51},{"year":"2013","time":"2013-10-01T06:00","wl":23.50},{"year":"2013","time":"2013-10-02T06:00","wl":23.41},{"year":"2013","time":"2013-10-03T12:00","wl":23.32},{"year":"2013","time":"2013-10-04T12:00","wl":23.25},{"year":"2013","time":"2013-10-05T06:00","wl":23.17},{"year":"2013","time":"2013-10-05T18:00","wl":23.13},{"year":"2013","time":"2013-10-06T12:00","wl":23.20},{"year":"2013","time":"2013-10-06T18:00","wl":23.32},{"year":"2013","time":"2013-10-07T00:00","wl":23.45},{"year":"2013","time":"2013-10-07T12:00","wl":23.49},{"year":"2013","time":"2013-10-08T12:00","wl":23.45},{"year":"2013","time":"2013-10-09T00:00","wl":23.29},{"year":"2013","time":"2013-10-10T00:00","wl":23.25},{"year":"2013","time":"2013-10-10T18:00","wl":23.26},{"year":"2013","time":"2013-10-11T18:00","wl":23.31},{"year":"2013","time":"2013-10-12T12:00","wl":23.29},{"year":"2013","time":"2013-10-13T00:00","wl":23.20},{"year":"2013","time":"2013-10-13T12:00","wl":23.13},{"year":"2013","time":"2013-10-14T06:00","wl":23.04},{"year":"2013","time":"2013-10-14T18:00","wl":22.98},{"year":"2013","time":"2013-10-15T06:00","wl":23.00},{"year":"2013","time":"2013-10-16T00:00","wl":23.06},{"year":"2013","time":"2013-10-17T00:00","wl":23.08},{"year":"2013","time":"2013-10-17T12:00","wl":23.00},{"year":"2013","time":"2013-10-17T18:00","wl":22.88},{"year":"2013","time":"2013-10-18T06:00","wl":22.77},{"year":"2013","time":"2013-10-18T18:00","wl":22.70},{"year":"2013","time":"2013-10-19T18:00","wl":22.64},{"year":"2013","time":"2013-10-20T12:00","wl":22.56},{"year":"2013","time":"2013-10-21T12:00","wl":22.52},{"year":"2013","time":"2013-10-22T06:00","wl":22.46},{"year":"2013","time":"2013-10-23T06:00","wl":22.45},{"year":"2013","time":"2013-10-24T06:00","wl":22.45},{"year":"2013","time":"2013-10-25T12:00","wl":22.46},{"year":"2013","time":"2013-10-26T12:00","wl":22.52},{"year":"2013","time":"2013-10-27T06:00","wl":22.60},{"year":"2013","time":"2013-10-28T06:00","wl":22.66},{"year":"2013","time":"2013-10-29T00:00","wl":22.64},{"year":"2013","time":"2013-10-30T00:00","wl":22.58},{"year":"2013","time":"2013-10-30T12:00","wl":22.52},{"year":"2013","time":"2013-10-30T18:00","wl":22.50}
]},
"layer":[
{"data":{"name":"levels"},"mark":{"type":"rule","color":"#f03c3c","strokeWidth":1.5},
 "encoding":{"y":{"field":"level","type":"quantitative","title":null}}},
{"data":{"name":"levels"},"mark":{"type":"text","align":"left","baseline":"middle","dx":1,"font":"Liberation Serif","fontSize":16,"color":"black"},
 "encoding":{"y":{"field":"level","type":"quantitative","title":null},"x":{"datum":{"year":2013,"month":10,"date":31,"hours":6},"type":"temporal"},"text":{"field":"label"}}},
{"data":{"name":"wl"},
 "mark":{"type":"line","strokeWidth":1.2,"point":{"shape":"square","filled":false,"size":30,"strokeWidth":1.4}},
 "encoding":{
  "x":{"field":"time","type":"temporal",
   "scale":{"domain":[{"year":2013,"month":4,"date":30,"hours":12},{"year":2013,"month":10,"date":31,"hours":6}]},
   "axis":{"values":[{"year":2013,"month":5,"date":1},{"year":2013,"month":6,"date":1},{"year":2013,"month":7,"date":1},{"year":2013,"month":8,"date":1},{"year":2013,"month":9,"date":1},{"year":2013,"month":10,"date":1}],
    "format":"%b","labelOffset":69,"labelAlign":"center","labelFont":"Liberation Serif","labelFontSize":16,"labelColor":"black","labelPadding":4,"labelOverlap":false,"labelBound":false,"labelFlush":false,
    "ticks":true,"tickSize":7,"tickColor":"#808080","tickDash":[3,3],
    "grid":true,"gridColor":"#808080","gridDash":[3,3],"gridOpacity":1,
    "domain":true,"domainColor":"#404040","domainWidth":1.5,
    "title":"1998-2013","titleFont":"Liberation Serif","titleFontSize":15,"titleFontWeight":"normal","titleColor":"black","titleX":511,"titleY":44,"titleAlign":"center","titleBaseline":"middle"}},
  "y":{"field":"wl","type":"quantitative",
   "scale":{"domain":[20.98,28.58],"nice":false,"zero":false},
   "axis":{"values":[21,21.5,22,22.5,23,23.5,24,24.5,25,25.5,26,26.5,27,27.5,28,28.5],"format":".2f",
    "labelFont":"Liberation Serif","labelFontSize":16,"labelFontWeight":"bold","labelColor":"black","labelPadding":9,"labelOverlap":false,
    "ticks":false,"grid":true,"gridColor":"#808080","gridDash":[3,3],"gridOpacity":1,
    "domain":true,"domainColor":"#404040","domainWidth":1.5,"title":null}},
  "color":{"field":"year","type":"nominal",
   "scale":{"domain":["1998","2007","2013"],"range":["#000000","#ff0000","#00ff00"]},
   "legend":{"orient":"none","legendX":-63,"legendY":-90,"title":null,"direction":"vertical",
    "labelExpr":"'[meter]\u00a0\u00a0\u00a0\u00a0\u00a0\u00a0\u00a0\u00a0\u00a0\u00a0\u00a0\u00a0\u00a0\u00a0\u00a0' + \"B'putra at Noonkhawa -3 hourly WL - \" + datum.label",
    "labelFont":"Liberation Serif","labelFontSize":15,"labelColor":"black","labelLimit":900,"labelOffset":-84,
    "symbolType":"M-3,0H-0.5M0.5,0H3M-0.5,-0.5H0.5V0.5H-0.5Z","symbolSize":144,"symbolStrokeWidth":1,"symbolOffset":85,
    "rowPadding":8.5,"padding":0,
    "encode":{"symbols":{"update":{"fill":{"value":"transparent"},"opacity":{"value":1}}}}}}
 }}
]
}
